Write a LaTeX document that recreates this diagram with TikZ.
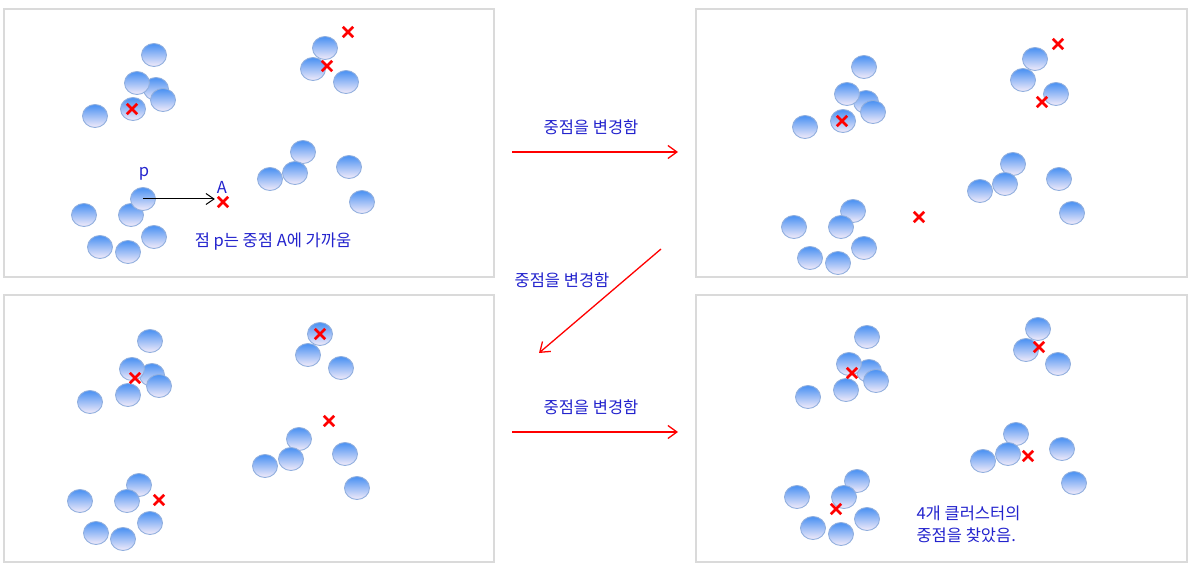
\documentclass[tikz,border=0pt]{standalone}
\usepackage{fontspec}
\setmainfont{Noto Sans CJK KR}
\usetikzlibrary{shapes.geometric, shapes.misc, arrows.meta}

\definecolor{ballTop}{RGB}{72,144,242}
\definecolor{ballMid}{RGB}{150,190,242}
\definecolor{ballBot}{RGB}{244,236,250}
\definecolor{ballRim}{RGB}{145,175,222}
\definecolor{labelBlue}{RGB}{35,35,205}
\definecolor{frameGray}{RGB}{218,218,218}

\begin{document}
\begin{tikzpicture}[x=1pt,y=-1pt]
    % Define styles for panels, points, centroids and arrows
    \tikzstyle{panel} = [draw=frameGray, line width=1.5pt]
    \tikzstyle{ball} = [ellipse, draw=ballRim, line width=0.9pt, minimum width=25pt, minimum height=23pt, inner sep=0pt, top color=ballTop, middle color=ballMid, bottom color=ballBot]
    \tikzstyle{centroid} = [cross out, draw=red, line width=2.8pt, minimum size=7.5pt, inner sep=0pt]
    \tikzstyle{note} = [text=labelBlue, font=\fontsize{16.5}{22}\selectfont]
    \tikzstyle{step arrow} = [draw=red, line width=1.3pt, -{Straight Barb[length=9pt, width=13pt]}]
    \tikzstyle{near arrow} = [draw=black, line width=1pt, -{Straight Barb[length=8pt, width=11pt]}]

    \useasboundingbox (0,0) rectangle (1199,569);

    % Panels
    \draw[panel] (4,9) rectangle (494,277);
    \draw[panel] (696,9) rectangle (1187,277);
    \draw[panel] (4,295) rectangle (494,562);
    \draw[panel] (696,295) rectangle (1187,562);

    % Points, first step
    \foreach \x/\y [count=\i] in {156/89, 154/55, 137/83, 163/100, 133/109, 95/116, 325/48, 313/69, 346/82, 303/152, 295/173, 270/179, 349/167, 362/202, 84/215, 131/215, 154/237, 100/247, 128/252}
        \node (ba\i) [ball] at (\x,\y) {};
    \node (p) [ball] at (143,199) {};
    \node (ca1) [centroid] at (348,32) {};
    \node (ca2) [centroid] at (327,66) {};
    \node (ca3) [centroid] at (132,109) {};
    \node (A) [centroid] at (223,202) {};
    \node (plabel) [note] at (144,174) {p};
    \node (alabel) [note] at (222,187) {A};
    \node (near) [note] at (273,242) {점 p는 중점 A에 가까움};
    \draw[near arrow, shorten >=3pt] (p.center) -- (p.center -| A.west);

    % Points, second step
    \foreach \x/\y [count=\i] in {866/102, 864/67, 847/94, 873/112, 843/121, 805/127, 1035/59, 1023/80, 1056/94, 1013/164, 1005/184, 980/191, 1059/179, 1072/213, 853/211, 794/227, 841/227, 864/248, 810/258, 838/263}
        \node (bb\i) [ball] at (\x,\y) {};
    \node (cb1) [centroid] at (1058,44) {};
    \node (cb2) [centroid] at (1042,102) {};
    \node (cb3) [centroid] at (842,121) {};
    \node (cb4) [centroid] at (919,217) {};

    % Points, third step
    \foreach \x/\y [count=\i] in {152/375, 150/341, 132/369, 159/386, 128/395, 90/402, 320/334, 308/355, 341/368, 299/439, 291/459, 265/466, 345/454, 357/488, 139/485, 80/501, 127/501, 150/523, 96/533, 123/539}
        \node (bc\i) [ball] at (\x,\y) {};
    \node (cc1) [centroid] at (320,334) {};
    \node (cc2) [centroid] at (135,378) {};
    \node (cc3) [centroid] at (329,421) {};
    \node (cc4) [centroid] at (159,500) {};

    % Points, last step
    \foreach \x/\y [count=\i] in {869/371, 867/337, 849/364, 876/381, 846/390, 808/397, 1038/329, 1026/350, 1058/364, 1016/434, 1008/454, 983/461, 1062/449, 1074/483, 857/481, 797/497, 844/497, 867/519, 813/528, 841/534}
        \node (bd\i) [ball] at (\x,\y) {};
    \node (cd1) [centroid] at (1039,347) {};
    \node (cd2) [centroid] at (852,373) {};
    \node (cd3) [centroid] at (1028,456) {};
    \node (cd4) [centroid] at (836,509) {};
    \node (found) [note, anchor=west, align=left] at (913,524) {4개 클러스터의\\중점을 찾았음.};

    % Arrows
    \coordinate (s1) at (512,152);
    \coordinate (e1) at (678,152);
    \coordinate (s2) at (661,249);
    \coordinate (e2) at (539,353);
    \coordinate (s3) at (512,432);
    \coordinate (e3) at (678,432);
    \draw[step arrow] (s1) -- (e1);
    \draw[step arrow] (s2) -- (e2);
    \draw[step arrow] (s3) -- (e3);
    \node (move1) [note] at (591,127) {중점을 변경함};
    \node (move2) [note] at (562,280) {중점을 변경함};
    \node (move3) [note] at (591,407) {중점을 변경함};

\end{tikzpicture}
\end{document}
